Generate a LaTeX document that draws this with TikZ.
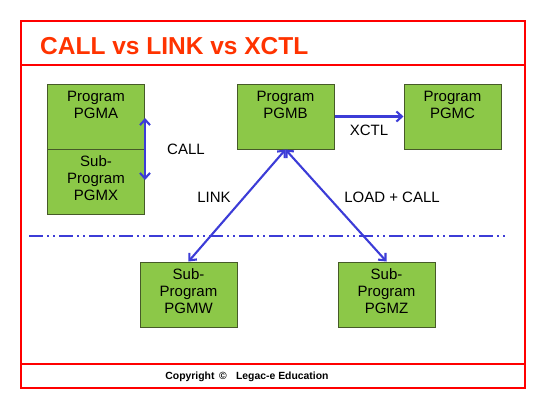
\documentclass[tikz,border=0pt]{standalone}
\usepackage{fontspec}
\setmainfont{Liberation Sans}
\usetikzlibrary{arrows.meta}
\definecolor{frame}{RGB}{255,0,0}
\definecolor{titlec}{RGB}{255,51,0}
\definecolor{boxfill}{RGB}{140,200,72}
\definecolor{boxline}{RGB}{70,90,40}
\definecolor{arrowc}{RGB}{60,60,215}
\tikzset{
  pbox/.style={draw=boxline, line width=1pt, fill=boxfill, inner sep=0pt, minimum width=97pt, minimum height=65pt},
  ptext/.style={anchor=north, align=center, inner sep=0pt, font=\fontsize{15}{17}\selectfont},
  conn/.style={draw=arrowc, line width=2.1pt},
  tipboth/.style={{Straight Barb[length=5.5pt,width=10pt]}-{Straight Barb[length=5.5pt,width=10pt]}},
  tipend/.style={-{Straight Barb[length=5.5pt,width=10pt]}},
  lbl/.style={font=\fontsize{15}{17}\selectfont, inner sep=0pt},
  sep/.style={draw=arrowc, line width=2.2pt, dash pattern=on 14pt off 4pt on 2pt off 4pt on 2pt off 4pt}
}
\begin{document}
\begin{tikzpicture}[x=1pt,y=-1pt]
\useasboundingbox (0,0) rectangle (547,413);
% frame
\draw[frame, line width=2.2pt] (21,21) rectangle (525,388);
\draw[frame, line width=2.2pt] (21,65) -- (525,65);
\draw[frame, line width=2.2pt] (21,364) -- (525,364);
\node[anchor=base west, inner sep=0pt, text=titlec, font=\fontsize{24.5}{28}\selectfont\bfseries] (title) at (40,54) {CALL vs LINK vs XCTL};
\node[inner sep=0pt, font=\fontsize{10.4}{12}\selectfont\bfseries] (copy) at (247,377) {Copyright \,©\, \, Legac-e Education};
% boxes
\node[pbox] (pgma) at (96,116.5) {};
\node[pbox] (pgmx) at (96,181.5) {};
\node[pbox] (pgmb) at (285.5,116.5) {};
\node[pbox] (pgmc) at (452.5,116.5) {};
\node[pbox] (pgmw) at (188.5,294.5) {};
\node[pbox] (pgmz) at (386.5,294.5) {};
\node[ptext] (ta) at ([yshift=-7pt]pgma.north) {Program\\PGMA};
\node[ptext] (tx) at ([yshift=-7pt]pgmx.north) {Sub-\\Program\\PGMX};
\node[ptext] (tb) at ([yshift=-7pt]pgmb.north) {Program\\PGMB};
\node[ptext] (tc) at ([yshift=-7pt]pgmc.north) {Program\\PGMC};
\node[ptext] (tw) at ([yshift=-7pt]pgmw.north) {Sub-\\Program\\PGMW};
\node[ptext] (tz) at ([yshift=-7pt]pgmz.north) {Sub-\\Program\\PGMZ};
% separator
\coordinate (sl) at (29,236);
\coordinate (sr) at (506,236);
\draw[sep] (sl) -- (sr);
% connectors
\coordinate (c1) at (145,118);
\coordinate (c2) at (145,180);
\draw[conn, tipboth] (c1) -- (c2);
\draw[conn, tipend] (pgmb.east) -- (pgmc.west);
\draw[conn, tipboth] (pgmb.south) -- (pgmw.north);
\draw[conn, tipboth] (pgmb.south) -- (pgmz.north);
% labels
\node[lbl] (lcall) at (186,149) {CALL};
\node[lbl] (lxctl) at (369,130) {XCTL};
\node[lbl] (llink) at (214,197) {LINK};
\node[lbl] (lload) at (392,197) {LOAD + CALL};
\end{tikzpicture}
\end{document}
